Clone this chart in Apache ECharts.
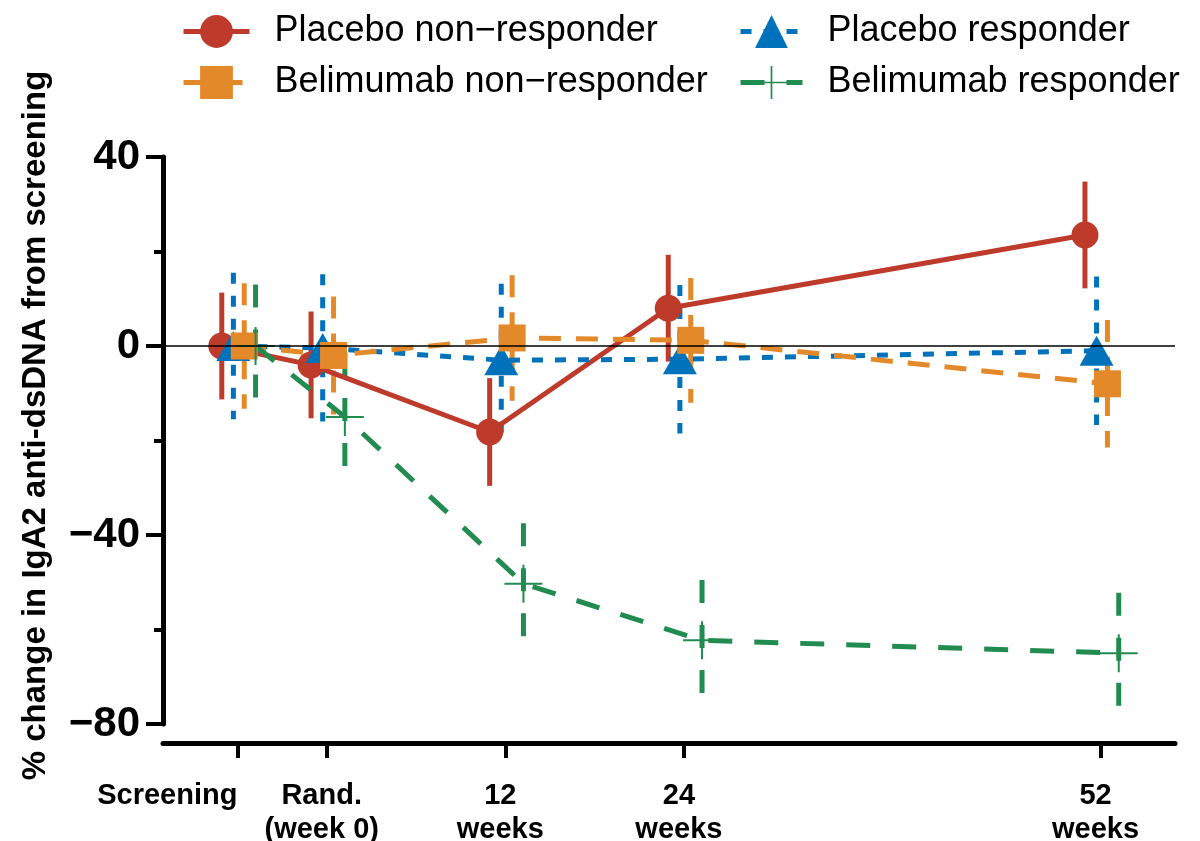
<!DOCTYPE html>
<html>
<head>
<meta charset="utf-8">
<script src="https://cdn.jsdelivr.net/npm/echarts@6/dist/echarts.min.js"></script>
<style>
    html, body { margin: 0; padding: 0; background: #fff; }
    #chart { width: 1200px; height: 841px; }
</style>
</head>
<body>
<div id="chart"></div>
<script>
// visits, in weeks from randomisation
const weeks = [-6, 0, 12, 24, 52]
const weekLabels = ['Screening', 'Rand.\n(week 0)', '12\nweeks', '24\nweeks', '52\nweeks']
const yTicks = [-80, -40, 0, 40]

// mean % change and SEM per group
const placeboNonResp = [0, -4, -18.2, 8, 23.5]
const placeboNonRespErr = [11.3, 11.3, 11.4, 11.3, 11.3]
const placeboResp = [0, -0.4, -3, -2.8, -1]
const placeboRespErr = [15.5, 15.6, 16.2, 15.7, 15.7]
const belimNonResp = [0, -2, 1.7, 1.2, -8]
const belimNonRespErr = [13.3, 12.5, 13.3, 13.2, 13.5]
const belimResp = [0, -15, -50.3, -62.3, -65]
const belimRespErr = [13, 13.5, 12.8, 12.8, 12.8]

// horizontal nudge so the groups do not sit on top of each other
const nudge = { pnr: -1.05, pr: -0.27, bnr: 0.46, br: 1.22 }

const RED = '#BE3B2B'
const BLUE = '#0072BB'
const ORANGE = '#E4892A'
const GREEN = '#228B4F'
const PLUS = 'path://M-1,-19 H1 V-1 H19 V1 H1 V19 H-1 V1 H-19 V-1 H-1 Z'

const chart = echarts.init(document.getElementById('chart'))

function lineSeries(name, vals, dx, color, dash, symbol, size) {
    return {
        name: name,
        type: 'line',
        z: 3,
        symbol: symbol,
        symbolSize: size,
        showSymbol: true,
        lineStyle: { color: color, width: 5, type: dash },
        itemStyle: { color: color },
        emphasis: { disabled: true },
        data: weeks.map((w, i) => [w + dx, vals[i]]),
    }
}

function errSeries(id, vals, err, dx, color, dash) {
    return {
        name: id,
        type: 'custom',
        z: 2,
        silent: true,
        renderItem: (params, api) => {
            const hi = api.coord([api.value(0), api.value(1)])
            const lo = api.coord([api.value(0), api.value(2)])
            return {
                type: 'line',
                shape: { x1: hi[0], y1: hi[1], x2: lo[0], y2: lo[1] },
                style: { stroke: color, lineWidth: 5, lineDash: dash },
            }
        },
        data: weeks.map((w, i) => [w + dx, vals[i] + err[i], vals[i] - err[i]]),
    }
}

const legendText = {
    fontSize: 36,
    lineHeight: 41,
    color: '#000',
    fontFamily: 'Liberation Sans, Arial, sans-serif',
    padding: [0, 0, 0, 20],
}

const xLabelStyle = {
    margin: 36,
    fontSize: 29,
    lineHeight: 34,
    fontWeight: 'bold',
    color: '#000',
    formatter: v => weekLabels[weeks.indexOf(v)] || '',
}

const option = {
    animation: false,
    backgroundColor: '#fff',
    textStyle: { fontFamily: 'Liberation Sans, Arial, sans-serif' },
    legend: [
        {
            orient: 'vertical',
            left: 176,
            top: 6,
            itemWidth: 66,
            itemHeight: 41,
            itemGap: 10,
            selectedMode: false,
            lineStyle: { width: 5 },
            textStyle: legendText,
            data: ['Placebo non−responder', 'Belimumab non−responder'],
        },
        {
            orient: 'vertical',
            left: 733,
            top: 6,
            itemWidth: 62,
            itemHeight: 41,
            itemGap: 10,
            selectedMode: false,
            lineStyle: { width: 5 },
            textStyle: legendText,
            data: ['Placebo responder', 'Belimumab responder'],
        },
    ],
    grid: { left: 163, right: 25, top: 157, bottom: 117, outerBoundsMode: 'none', containLabel: false },
    xAxis: [
        {
            type: 'value',
            position: 'bottom',
            min: -11,
            max: 57,
            offset: 19,
            axisLine: { onZero: false, lineStyle: { color: '#000', width: 5 } },
            axisTick: { customValues: weeks.slice(), length: 15, lineStyle: { color: '#000', width: 4 } },
            axisLabel: Object.assign({ customValues: weeks.slice(1), padding: [0, 10, 0, 0] }, xLabelStyle),
            splitLine: { show: false },
        },
        {
            // screening label only, right aligned at its tick
            type: 'value',
            position: 'bottom',
            min: -11,
            max: 57,
            offset: 19,
            axisLine: { show: false, onZero: false },
            axisTick: { show: false },
            axisLabel: Object.assign({ customValues: weeks.slice(0, 1), align: 'right', padding: [0, 0, 0, 0] }, xLabelStyle),
            splitLine: { show: false },
        },
    ],
    yAxis: {
        type: 'value',
        min: -80,
        max: 40,
        interval: 40,
        name: '% change in IgA2 anti-dsDNA from screening',
        nameLocation: 'middle',
        nameGap: 111,
        nameTextStyle: { fontSize: 33, fontWeight: 'bold', color: '#000', padding: [0, 0, 0, 30] },
        axisLine: { onZero: false, lineStyle: { color: '#000', width: 5 } },
        axisTick: { length: 17, lineStyle: { color: '#000', width: 4 } },
        minorTick: { show: true, splitNumber: 2, length: 9, lineStyle: { color: '#000', width: 4 } },
        axisLabel: {
            margin: 23,
            fontSize: 42,
            fontWeight: 'bold',
            color: '#000',
            formatter: v => (yTicks.includes(v) ? String(v).replace('-', '−') : ''),
        },
        splitLine: { show: false },
    },
    series: [
        errSeries('err-pnr', placeboNonResp, placeboNonRespErr, nudge.pnr, RED, null),
        errSeries('err-pr', placeboResp, placeboRespErr, nudge.pr, BLUE, [11, 12]),
        errSeries('err-bnr', belimNonResp, belimNonRespErr, nudge.bnr, ORANGE, [22, 15]),
        errSeries('err-br', belimResp, belimRespErr, nudge.br, GREEN, [23, 22]),
        lineSeries('Placebo non−responder', placeboNonResp, nudge.pnr, RED, 'solid', 'circle', 27),
        lineSeries('Placebo responder', placeboResp, nudge.pr, BLUE, [11, 12], 'triangle', [34, 30]),
        lineSeries('Belimumab non−responder', belimNonResp, nudge.bnr, ORANGE, [22, 15], 'rect', 27),
        lineSeries('Belimumab responder', belimResp, nudge.br, GREEN, [24, 22], PLUS, 38),
        {
            // thin zero reference line, drawn over the markers
            type: 'line',
            z: 10,
            data: [],
            markLine: {
                silent: true,
                symbol: 'none',
                label: { show: false },
                lineStyle: { color: '#000', width: 1.5, type: 'solid' },
                data: [{ yAxis: 0 }],
            },
        },
    ],
}

chart.setOption(option)
</script>
</body>
</html>
